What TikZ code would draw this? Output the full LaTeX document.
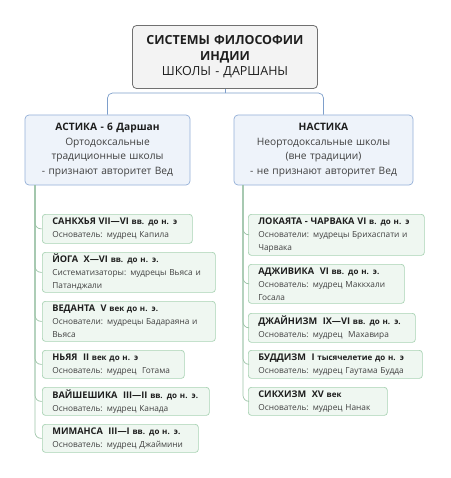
\documentclass[tikz,border=0pt]{standalone}
\usepackage{fontspec}
\setmainfont{Open Sans}
\definecolor{rootfill}{HTML}{F3F3F3}
\definecolor{rootdraw}{HTML}{707070}
\definecolor{bluefill}{HTML}{EEF3FA}
\definecolor{bluedraw}{HTML}{94B0D8}
\definecolor{blueline}{HTML}{7E9FCB}
\definecolor{greenfill}{HTML}{EFF7F1}
\definecolor{greendraw}{HTML}{A9D3B4}
\definecolor{greenline}{HTML}{9DC4A8}
\definecolor{titletext}{HTML}{1E1E1E}
\definecolor{bodytext}{HTML}{404040}
\newcommand\kidtitle[2]{{\bfseries\color{titletext}\fontsize{9.2}{13}\selectfont #1\fontsize{8}{13}\selectfont #2}}
\begin{document}
\begin{tikzpicture}[x=1pt,y=-1pt,
  rootbox/.style={draw=rootdraw,fill=rootfill,rounded corners=4pt,line width=0.8pt,align=center,minimum width=185pt,text width=185pt,minimum height=63pt,inner sep=0pt,font=\fontsize{12.5}{15.5}\selectfont,text=titletext},
  mainbox/.style={draw=bluedraw,fill=bluefill,rounded corners=4pt,line width=0.7pt,align=center,minimum height=70pt,inner sep=0pt,font=\fontsize{10.2}{14.8}\selectfont,text=bodytext},
  kid/.style={draw=greendraw,fill=greenfill,rounded corners=3pt,line width=0.7pt,anchor=north west,inner xsep=10pt,inner ysep=0pt,align=left,font=\fontsize{8.3}{13}\selectfont,text=bodytext},
  topline/.style={draw=blueline,line width=0.7pt,rounded corners=5pt},
  trunk/.style={draw=greenline,line width=0.7pt,rounded corners=6pt}]
\useasboundingbox (0,0) rectangle (450,478);
\fill[white] (0,0) rectangle (450,478);

\node[rootbox] (root) at (225,57) {\textbf{СИСТЕМЫ ФИЛОСОФИИ}\\\textbf{ИНДИИ}\\ШКОЛЫ - ДАРШАНЫ};

\node[mainbox,minimum width=165pt,text width=165pt] (ast) at (107.5,150) {\textbf{\color{titletext}АСТИКА - 6 Даршан}\\Ортодоксальные\\традиционные школы\\- признают авторитет Вед};
\node[mainbox,minimum width=179pt,text width=179pt] (nast) at (323.5,150) {\textbf{\color{titletext}НАСТИКА}\\Неортодоксальные школы\\(вне традиции)\\- не признают авторитет Вед};

\coordinate (mid) at (225,93);
\draw[topline] (root.south) -- (mid);
\draw[topline] (mid) -| (ast.north);
\draw[topline] (mid) -| (nast.north);

% left children
\node[kid,minimum width=150pt,minimum height=29pt,text width=130pt] (san) at (42,214) {\kidtitle{САНКХЬЯ VII—VI }{вв. до н. э}\\Основатель: мудрец Капила};
\node[kid,minimum width=173pt,minimum height=40pt,text width=153pt] (yoga) at (42,252) {\kidtitle{ЙОГА~ X—VI }{вв. до н. э.}\\Систематизаторы: мудрецы Вьяса и\\Патанджали};
\node[kid,minimum width=173pt,minimum height=40pt,text width=153pt] (ved) at (42,301) {\kidtitle{ВЕДАНТА~ V }{век до н. э.}\\Основатели: мудрецы Бадараяна и\\Вьяса};
\node[kid,minimum width=142pt,minimum height=28pt,text width=122pt] (nya) at (42,350) {\kidtitle{НЬЯЯ~ II }{век до н. э}\\Основатель: мудрец~ Готама};
\node[kid,minimum width=167pt,minimum height=28pt,text width=147pt] (vai) at (42,387) {\kidtitle{ВАЙШЕШИКА~ III—II }{вв. до н. э.}\\Основатель: мудрец Канада};
\node[kid,minimum width=156pt,minimum height=28pt,text width=136pt] (mim) at (42,424) {\kidtitle{МИМАНСА~ III—I }{вв. до н. э.}\\Основатель: мудрец Джаймини};

% right children
\node[kid,minimum width=176pt,minimum height=41pt,text width=156pt] (lok) at (248,214) {\kidtitle{ЛОКАЯТА - ЧАРВАКА VI }{в. до н. э}\\Основатели: мудрецы Брихаспати и\\Чарвака};
\node[kid,minimum width=156pt,minimum height=39pt,text width=136pt] (adj) at (248,264) {\kidtitle{АДЖИВИКА~ VI }{вв. до н. э.}\\Основатель: мудрец Маккхали\\Госала};
\node[kid,minimum width=167pt,minimum height=29pt,text width=147pt] (jain) at (248,313) {\kidtitle{ДЖАЙНИЗМ~ IX—VI }{вв. до н. э.}\\Основатель: мудрец~ Махавира};
\node[kid,minimum width=174pt,minimum height=28pt,text width=154pt] (bud) at (248,350) {\kidtitle{БУДДИЗМ~ I }{тысячелетие до н. э}\\Основатель: мудрец Гаутама Будда};
\node[kid,minimum width=139pt,minimum height=28pt,text width=119pt] (sikh) at (248,387) {\kidtitle{СИКХИЗМ~ XV }{век}\\Основатель: мудрец Нанак};

\coordinate (lt) at (35,185);
\coordinate (rt) at (243,185);
\foreach \c in {san,yoga,ved,nya,vai,mim} \draw[trunk] (lt) |- (\c.west);
\foreach \c in {lok,adj,jain,bud,sikh} \draw[trunk] (rt) |- (\c.west);
\end{tikzpicture}
\end{document}
